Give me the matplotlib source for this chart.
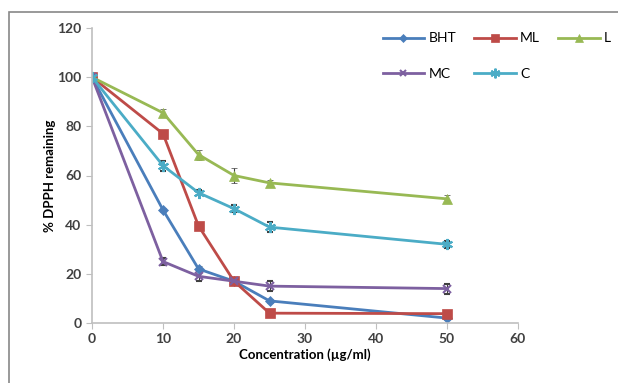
import matplotlib.pyplot as plt
from matplotlib.lines import Line2D
from matplotlib.patches import Rectangle

plt.rcParams['font.family'] = ['Lato', 'DejaVu Sans']

# data
conc = [0, 10, 15, 20, 25, 50]
bht = [100, 46, 22, 17, 9, 2]
ml = [100, 77, 39.5, 17, 4, 3.8]
l_vals = [100, 85.5, 68.5, 60, 57, 50.5]
mc = [100, 25, 19, 17, 15, 14]
c_vals = [100, 64, 53, 46.5, 39, 32]

bht_err = [0, 0.8, 1, 0.8, 0.8, 0.8]
ml_err = [0, 1, 1, 1, 0.8, 0.8]
l_err = [0, 1.5, 2, 3, 1, 1.5]
mc_err = [0, 1.5, 2, 1, 2, 2]
c_err = [0, 2, 1, 1.5, 2, 1.5]

series = [
    ('BHT', bht, bht_err, '#4A7EBB', 'D', 5),
    ('ML', ml, ml_err, '#BE4B48', 's', 7),
    ('L', l_vals, l_err, '#98B954', '^', 7),
    ('MC', mc, mc_err, '#7D60A0', 'x', 6),
    ('C', c_vals, c_err, '#4BACC6', (6, 2, 0), 8),
]

fig = plt.figure(figsize=(6.18, 3.83), dpi=100)
fig.patches.append(Rectangle((9 / 618, -0.1), 1.2, 1 - 12 / 383 + 0.1,
                             transform=fig.transFigure, fill=False,
                             edgecolor='#888888', lw=1.2))
ax = fig.add_axes([92 / 618, 1 - 323 / 383, (518 - 92) / 618, (323 - 28) / 383])

handles = {}
for name, vals, err, col, mk, ms in series:
    mew = 1.5 if (mk == 'x' or isinstance(mk, tuple)) else 0.5
    ax.errorbar(conc, vals, yerr=err, color=col, marker=mk, markersize=ms,
                lw=2, ecolor='#404040', elinewidth=0.8, capsize=2.5,
                markeredgewidth=mew)
    handles[name] = Line2D([], [], color=col, marker=mk, markersize=ms - 1,
                           lw=2, markeredgewidth=mew)

ax.set_xlim(0, 60)
ax.set_ylim(0, 120)
ax.set_xticks(range(0, 61, 10))
ax.set_yticks(range(0, 121, 20))
for s in ['top', 'right']:
    ax.spines[s].set_visible(False)
for s in ['left', 'bottom']:
    ax.spines[s].set_color('#BFBFBF')
    ax.spines[s].set_linewidth(1.2)
ax.tick_params(colors='#BFBFBF', labelcolor='#404040', labelsize=10, length=4)
for t in ax.get_xticklabels() + ax.get_yticklabels():
    t.set_fontweight('bold')
ax.set_xlabel('Concentration (µg/ml)', fontsize=9.5, fontweight='bold', labelpad=2)
ax.set_ylabel('% DPPH remaining', fontsize=9.5, fontweight='bold', labelpad=1)

# legend filled column-wise, so order it to read BHT ML L / MC C by rows
order = ['BHT', 'MC', 'ML', 'C', 'L']
fig.legend([handles[k] for k in order], order, ncol=3, loc='upper left',
           bbox_to_anchor=(370 / 618, 1 - 20 / 383), frameon=False,
           fontsize=10, handlelength=3, columnspacing=1.3,
           labelspacing=1.7, handletextpad=0.3)

fig.savefig('out.png', dpi=100)
